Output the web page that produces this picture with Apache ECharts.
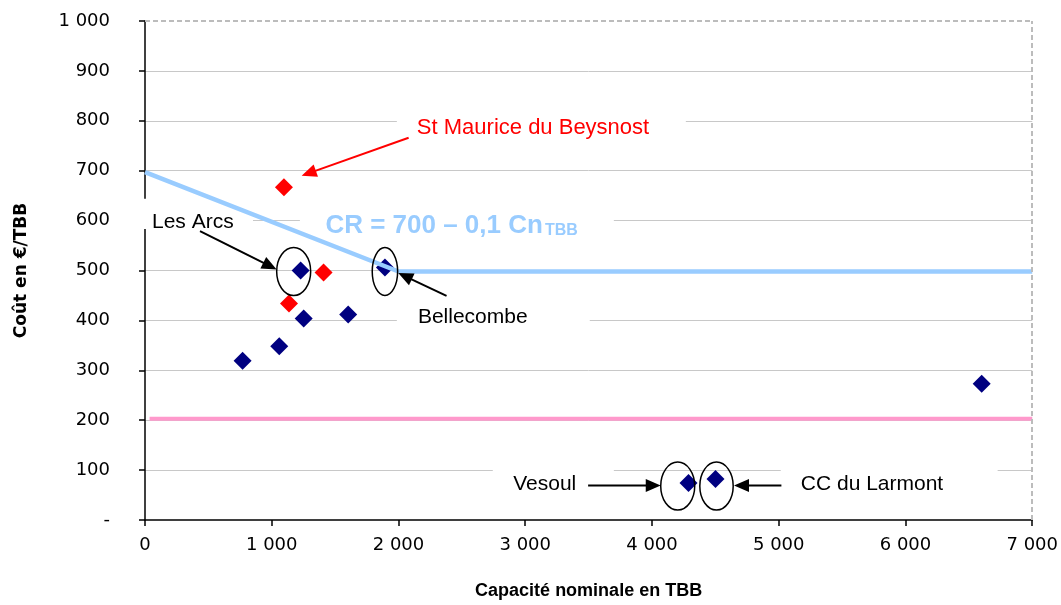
<!DOCTYPE html>
<html><head><meta charset="utf-8">
<script src="https://cdn.jsdelivr.net/npm/echarts@6/dist/echarts.min.js"></script>
<style>html,body{margin:0;padding:0;background:#fff}#c{width:1061px;height:605px}</style>
</head><body><div id="c"></div>
<script>
// ---- data ----
const blueSites = [[770,319],[1059,348],[1228,500],[1252,404],[1603,412],[1893,506],[4288,74],[4501,82],[6601,273]];
const redSites  = [[1096,667],[1136,434],[1409,496]];
const crLine    = [[0,697],[2000,498],[7000,498]];
const floorLine = [[36,203],[7000,203]];
const xTickValues = [0,1000,2000,3000,4000,5000,6000,7000];
const xTickLabels = ['0','1 000','2 000','3 000','4 000','5 000','6 000','7 000'];
const yTickValues = [0,100,200,300,400,500,600,700,800,900,1000];
const yTickLabels = ['-','100','200','300','400','500','600','700','800','900','1 000'];
const xTitle = 'Capacité nominale en TBB';
const yTitle = 'Coût en €/TBB';

// annotations, anchored in data units
const annoTexts = [
  {t:'Les Arcs', at:[55,596], c:'#000', fs:21},
  {t:'Bellecombe', at:[2153,407], c:'#000', fs:21},
  {t:'St Maurice du Beysnost', at:[2145,786], c:'#FF0000', fs:22},
  {t:'Vesoul', at:[2905,71], c:'#000', fs:21},
  {t:'CC du Larmont', at:[5174,71], c:'#000', fs:21}
];
const annoArrows = [
  {from:[434,579], to:[1039,502], c:'#000'},
  {from:[2379,449], to:[1998,495], c:'#000'},
  {from:[2080,766], to:[1236,690], c:'#FF0000'},
  {from:[3496,69], to:[4069,69], c:'#000'},
  {from:[5021,69], to:[4647,69], c:'#000'}
];
const annoEllipses = [
  {at:[1173,498], rx:17, ry:24},
  {at:[1893,498], rx:12.7, ry:24},
  {at:[4203,68], rx:17, ry:24},
  {at:[4509,68], rx:16.7, ry:24}
];
const annoBoxes = [
  [1987,823,4267,744],
  [-79,644,852,583],
  [1222,628,3699,545],
  [1987,433,3509,366],
  [2744,123,3699,38],
  [5016,123,6727,38]
];

const chart = echarts.init(document.getElementById('c'));
const lblFont = 'DejaVu Sans';
chart.setOption({
  animation:false,
  backgroundColor:'#fff',
  grid:{left:145, right:28, top:21, bottom:81},
  xAxis:{
    type:'value', min:0, max:7000, interval:1000,
    axisLine:{show:true, onZero:false, lineStyle:{color:'#000', width:1.5}},
    axisTick:{show:true, length:6, lineStyle:{color:'#000', width:1.5}},
    axisLabel:{margin:16, color:'#000', fontFamily:lblFont, fontSize:18,
      formatter:v=>{const i=xTickValues.indexOf(v); return i>=0?xTickLabels[i]:'';}},
    splitLine:{show:false},
    name:xTitle, nameLocation:'middle', nameGap:62,
    nameTextStyle:{fontFamily:'Liberation Sans', fontWeight:'bold', fontSize:18, color:'#000'}
  },
  yAxis:{
    type:'value', min:0, max:1000, interval:100,
    axisLine:{show:true, onZero:false, lineStyle:{color:'#000', width:1.5}},
    axisTick:{show:true, length:6, lineStyle:{color:'#000', width:1.5}},
    axisLabel:{margin:35, color:'#000', fontFamily:lblFont, fontSize:18,
      formatter:v=>{const i=yTickValues.indexOf(v); return i>=0?yTickLabels[i]:'';}},
    splitLine:{show:true, showMinLine:false, showMaxLine:false, lineStyle:{color:'#c8c8c8', width:1}},
    name:yTitle, nameLocation:'middle', nameGap:115, nameRotate:90,
    nameTextStyle:{fontFamily:'DejaVu Sans', fontWeight:'bold', fontSize:17, color:'#000'}
  },
  series:[
    {type:'line', data:floorLine, symbol:'none', z:3, silent:true,
     lineStyle:{color:'#FF99CC', width:4},
     markLine:{silent:true, symbol:'none', label:{show:false}, animation:false,
       lineStyle:{color:'#bcbcbc', type:[5,3], width:2},
       data:[[{coord:[0,1000]},{coord:[7000,1000]}],[{coord:[7000,0]},{coord:[7000,1000]}]]}},
    {type:'line', data:crLine, symbol:'none', z:3, silent:true,
     lineStyle:{color:'#99CCFF', width:4.5}},
    {type:'scatter', data:blueSites, symbol:'diamond', symbolSize:18, z:2,
     itemStyle:{color:'#000080', opacity:1}},
    {type:'scatter', data:redSites, symbol:'diamond', symbolSize:18, z:2,
     itemStyle:{color:'#FF0000', opacity:1}}
  ]
});

const P = d => chart.convertToPixel({gridIndex:0}, d);
const g = [];
annoBoxes.forEach(b=>{
  const p1=P([b[0],b[1]]), p2=P([b[2],b[3]]);
  g.push({type:'rect', z:1, silent:true, shape:{x:p1[0], y:p1[1], width:p2[0]-p1[0], height:p2[1]-p1[1]}, style:{fill:'#fff'}});
});
annoEllipses.forEach(e=>{
  const p=P(e.at);
  g.push({type:'ellipse', z:5, silent:true, shape:{cx:p[0], cy:p[1], rx:e.rx, ry:e.ry}, style:{fill:null, stroke:'#000', lineWidth:1.5}});
});
annoArrows.forEach(a=>{
  const f=P(a.from), t=P(a.to);
  const dx=t[0]-f[0], dy=t[1]-f[1], L=Math.hypot(dx,dy), ux=dx/L, uy=dy/L;
  const hl=15, hw=6.5;
  const bx=t[0]-ux*hl, by=t[1]-uy*hl;
  g.push({type:'line', z:5, silent:true, shape:{x1:f[0], y1:f[1], x2:bx+ux*2, y2:by+uy*2}, style:{stroke:a.c, lineWidth:2}});
  g.push({type:'polygon', z:5, silent:true, shape:{points:[[t[0],t[1]],[bx-uy*hw,by+ux*hw],[bx+uy*hw,by-ux*hw]]}, style:{fill:a.c}});
});
annoTexts.forEach(a=>{
  const p=P(a.at);
  g.push({type:'text', z:6, silent:true, style:{text:a.t, x:p[0], y:p[1], fill:a.c, font:a.fs+'px "Liberation Sans"', textAlign:'left', textVerticalAlign:'middle', verticalAlign:'middle'}});
});
// regression formula label
const crP = P([3155,590]);
g.push({type:'text', z:6, silent:true, style:{text:'CR = 700 – 0,1 Cn', x:crP[0]-2, y:crP[1], fill:'#99CCFF', font:'bold 26px "Liberation Sans"', textAlign:'right', textVerticalAlign:'middle', verticalAlign:'middle'}});
const subP = P([3155,580]);
g.push({type:'text', z:6, silent:true, style:{text:'TBB', x:subP[0], y:subP[1], fill:'#99CCFF', font:'bold 16px "Liberation Sans"', textAlign:'left', textVerticalAlign:'middle', verticalAlign:'middle'}});
chart.setOption({graphic:g});
</script>
</body></html>
